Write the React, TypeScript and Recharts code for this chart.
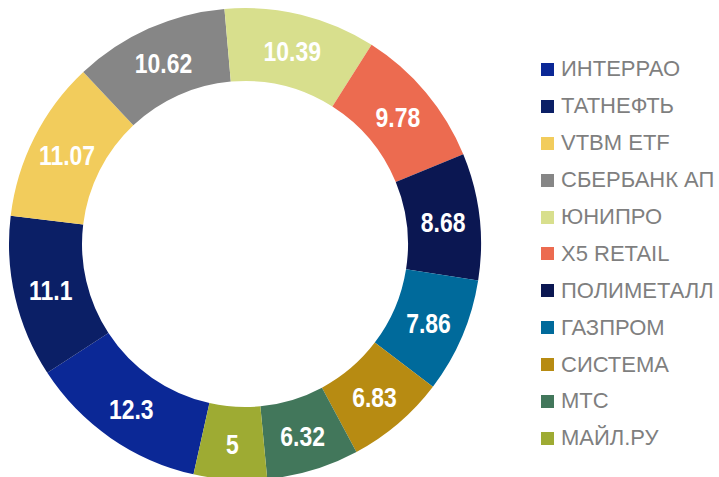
import * as React from "react";
import { PieChart, Pie, Cell, Legend } from "recharts";

const names = [
    "ИНТЕРРАО",
    "ТАТНЕФТЬ",
    "VTBM ETF",
    "СБЕРБАНК АП",
    "ЮНИПРО",
    "X5 RETAIL",
    "ПОЛИМЕТАЛЛ",
    "ГАЗПРОМ",
    "СИСТЕМА",
    "МТС",
    "МАЙЛ.РУ",
];
const shares = [12.3, 11.1, 11.07, 10.62, 10.39, 9.78, 8.68, 7.86, 6.83, 6.32, 5];
const colors = [
    "#0b2896", "#0b1f66", "#f2cc5c", "#868686", "#d8df8d", "#ec6b50",
    "#0b1752", "#006a9b", "#b78b12", "#42775b", "#9eab33",
];

const data = names.map((name, i) => ({ name, value: shares[i] }));

const RAD = Math.PI / 180;
const font = "'Liberation Sans', Arial, sans-serif";

const renderLabel = (p: any) => {
    const r = (p.innerRadius + p.outerRadius) / 2;
    const x = p.cx + r * Math.cos(-p.midAngle * RAD);
    const y = p.cy + r * Math.sin(-p.midAngle * RAD);
    return (
        <text transform={`translate(${x},${y + 1}) scale(0.82,1)`} fill="#fff" textAnchor="middle"
              dominantBaseline="central" fontSize={28} fontWeight="bold" fontFamily={font}>
            {String(p.value)}
        </text>
    );
};

// keep the legend in data order (recharts 3 sorts payload by name)
const LegendBox = () => (
    <div style={{ fontFamily: font }}>
        {names.map((n, i) => (
            <div key={n} style={{ display: "flex", alignItems: "center", height: 36.9 }}>
                <span style={{ width: 13, height: 13, background: colors[i], marginRight: 7, flex: "none" }} />
                <span style={{ color: "#7f7f7f", fontSize: 22, whiteSpace: "nowrap", lineHeight: 1 }}>{n}</span>
            </div>
        ))}
    </div>
);

export default function App() {
    return (
        <div style={{ position: "absolute", left: 0, top: 0, width: 719, height: 477, background: "#fff" }}>
            <PieChart width={719} height={477} margin={{ top: 0, right: 0, bottom: 0, left: 0 }}>
                <Pie
                    data={data}
                    dataKey="value"
                    nameKey="name"
                    cx={245}
                    cy={244}
                    innerRadius={163}
                    outerRadius={236}
                    startAngle={-102.6}
                    endAngle={-462.6}
                    stroke="none"
                    label={renderLabel}
                    labelLine={false}
                    isAnimationActive={false}
                >
                    {data.map((d, i) => (
                        <Cell key={d.name} fill={colors[i]} />
                    ))}
                </Pie>
                <Legend
                    layout="vertical"
                    align="right"
                    verticalAlign="top"
                    content={<LegendBox />}
                    wrapperStyle={{ left: 541, top: 51, width: 178 }}
                />
            </PieChart>
        </div>
    );
}
